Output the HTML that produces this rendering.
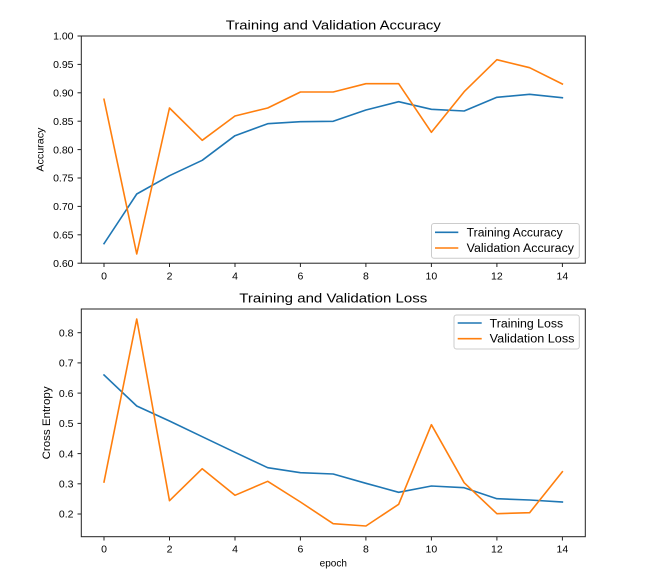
<!DOCTYPE html>
<html><head><meta charset="utf-8"><style>
html,body{margin:0;padding:0;background:#fff;}
svg{display:block;}
text{font-family:"Liberation Sans","Noto Sans CJK SC",sans-serif;fill:#000;}
</style></head><body>
<svg width="650" height="582" viewBox="0 0 650 582" xmlns="http://www.w3.org/2000/svg">
<rect width="650" height="582" fill="#fff"/>
<!-- TOP AXES -->
<text x="333.3" y="29.3" font-size="13" text-anchor="middle" textLength="215" lengthAdjust="spacingAndGlyphs">Training and Validation Accuracy</text>
<g stroke="#222" stroke-width="1">
<line x1="77.5" y1="36" x2="81.3" y2="36"/>
<line x1="77.5" y1="64.4" x2="81.3" y2="64.4"/>
<line x1="77.5" y1="92.8" x2="81.3" y2="92.8"/>
<line x1="77.5" y1="121.2" x2="81.3" y2="121.2"/>
<line x1="77.5" y1="149.6" x2="81.3" y2="149.6"/>
<line x1="77.5" y1="178" x2="81.3" y2="178"/>
<line x1="77.5" y1="206.4" x2="81.3" y2="206.4"/>
<line x1="77.5" y1="234.8" x2="81.3" y2="234.8"/>
<line x1="77.5" y1="263.2" x2="81.3" y2="263.2"/>
<line x1="104" y1="263.2" x2="104" y2="267"/>
<line x1="169.5" y1="263.2" x2="169.5" y2="267"/>
<line x1="235" y1="263.2" x2="235" y2="267"/>
<line x1="300.4" y1="263.2" x2="300.4" y2="267"/>
<line x1="365.9" y1="263.2" x2="365.9" y2="267"/>
<line x1="431.4" y1="263.2" x2="431.4" y2="267"/>
<line x1="496.9" y1="263.2" x2="496.9" y2="267"/>
<line x1="562.4" y1="263.2" x2="562.4" y2="267"/>
</g>
<g font-size="10.5" text-anchor="end">
<text x="73.5" y="39.7">1.00</text>
<text x="73.5" y="68.1">0.95</text>
<text x="73.5" y="96.5">0.90</text>
<text x="73.5" y="124.9">0.85</text>
<text x="73.5" y="153.3">0.80</text>
<text x="73.5" y="181.7">0.75</text>
<text x="73.5" y="210.1">0.70</text>
<text x="73.5" y="238.5">0.65</text>
<text x="73.5" y="266.9">0.60</text>
</g>
<g font-size="10.5" text-anchor="middle">
<text x="104" y="279.5">0</text>
<text x="169.5" y="279.5">2</text>
<text x="235" y="279.5">4</text>
<text x="300.4" y="279.5">6</text>
<text x="365.9" y="279.5">8</text>
<text x="431.4" y="279.5">10</text>
<text x="496.9" y="279.5">12</text>
<text x="562.4" y="279.5">14</text>
</g>
<text transform="translate(43.5,149.6) rotate(-90)" font-size="10" text-anchor="middle" textLength="44" lengthAdjust="spacingAndGlyphs">Accuracy</text>
<g fill="none" stroke-width="1.6" stroke-linejoin="round" stroke-linecap="square">
<polyline stroke="#1f77b4" points="104,243.7 136.74,194 169.48,175.7 202.22,160.3 234.96,135.7 267.7,123.7 300.44,121.7 333.18,121.3 365.92,110 398.66,101.7 431.4,109.3 464.14,111 496.88,97.3 529.62,94.3 562.36,97.7"/>
<polyline stroke="#ff7f0e" points="104,99.3 136.74,254 169.48,108 202.22,140.3 234.96,116 267.7,108 300.44,92 333.18,92 365.92,83.7 398.66,83.7 431.4,132.3 464.14,91.7 496.88,59.7 529.62,67.7 562.36,84"/>
</g>
<!-- legend top -->
<rect x="431.5" y="223.5" width="147.8" height="34.8" rx="2.5" fill="#fff" fill-opacity="0.8" stroke="#ccc" stroke-width="1"/>
<line x1="435" y1="232.3" x2="458.3" y2="232.3" stroke="#1f77b4" stroke-width="1.6"/>
<line x1="435" y1="248" x2="458.3" y2="248" stroke="#ff7f0e" stroke-width="1.6"/>
<text x="466.7" y="236.4" font-size="11.5" textLength="96" lengthAdjust="spacingAndGlyphs">Training Accuracy</text>
<text x="466.7" y="252.2" font-size="11.5" textLength="107.3" lengthAdjust="spacingAndGlyphs">Validation Accuracy</text>
<rect x="81.3" y="36" width="504" height="227.2" fill="none" stroke="#222" stroke-width="1"/>

<!-- BOTTOM AXES -->
<text x="333.3" y="302.3" font-size="13" text-anchor="middle" textLength="188" lengthAdjust="spacingAndGlyphs">Training and Validation Loss</text>
<g stroke="#222" stroke-width="1">
<line x1="77.5" y1="332.7" x2="81.3" y2="332.7"/>
<line x1="77.5" y1="362.9" x2="81.3" y2="362.9"/>
<line x1="77.5" y1="393.1" x2="81.3" y2="393.1"/>
<line x1="77.5" y1="423.4" x2="81.3" y2="423.4"/>
<line x1="77.5" y1="453.6" x2="81.3" y2="453.6"/>
<line x1="77.5" y1="483.8" x2="81.3" y2="483.8"/>
<line x1="77.5" y1="514" x2="81.3" y2="514"/>
<line x1="104" y1="536.7" x2="104" y2="540.5"/>
<line x1="169.5" y1="536.7" x2="169.5" y2="540.5"/>
<line x1="235" y1="536.7" x2="235" y2="540.5"/>
<line x1="300.4" y1="536.7" x2="300.4" y2="540.5"/>
<line x1="365.9" y1="536.7" x2="365.9" y2="540.5"/>
<line x1="431.4" y1="536.7" x2="431.4" y2="540.5"/>
<line x1="496.9" y1="536.7" x2="496.9" y2="540.5"/>
<line x1="562.4" y1="536.7" x2="562.4" y2="540.5"/>
</g>
<g font-size="10.5" text-anchor="end">
<text x="73.5" y="336.4">0.8</text>
<text x="73.5" y="366.6">0.7</text>
<text x="73.5" y="396.8">0.6</text>
<text x="73.5" y="427.1">0.5</text>
<text x="73.5" y="457.3">0.4</text>
<text x="73.5" y="487.5">0.3</text>
<text x="73.5" y="517.7">0.2</text>
</g>
<g font-size="10.5" text-anchor="middle">
<text x="104" y="552.5">0</text>
<text x="169.5" y="552.5">2</text>
<text x="235" y="552.5">4</text>
<text x="300.4" y="552.5">6</text>
<text x="365.9" y="552.5">8</text>
<text x="431.4" y="552.5">10</text>
<text x="496.9" y="552.5">12</text>
<text x="562.4" y="552.5">14</text>
</g>
<text transform="translate(50,422.9) rotate(-90)" font-size="11" text-anchor="middle" textLength="73" lengthAdjust="spacingAndGlyphs">Cross Entropy</text>
<text x="333.3" y="566.5" font-size="10" text-anchor="middle">epoch</text>
<g fill="none" stroke-width="1.6" stroke-linejoin="round" stroke-linecap="square">
<polyline stroke="#1f77b4" points="104,375 136.74,406 169.48,421 202.22,436.7 234.96,452.3 267.7,467.7 300.44,472.7 333.18,474 365.92,483.3 398.66,492.3 431.4,486 464.14,487.7 496.88,498.7 529.62,500 562.36,502"/>
<polyline stroke="#ff7f0e" points="104,482 136.74,319 169.48,500.7 202.22,468.7 234.96,495.3 267.7,481.3 300.44,502 333.18,523.7 365.92,526 398.66,504.3 431.4,424.7 464.14,482.7 496.88,513.7 529.62,512.7 562.36,471.7"/>
</g>
<!-- legend bottom -->
<rect x="454" y="315" width="125.3" height="34" rx="2.5" fill="#fff" fill-opacity="0.8" stroke="#ccc" stroke-width="1"/>
<line x1="457.7" y1="323" x2="481.7" y2="323" stroke="#1f77b4" stroke-width="1.6"/>
<line x1="457.7" y1="338.7" x2="481.7" y2="338.7" stroke="#ff7f0e" stroke-width="1.6"/>
<text x="489.7" y="327.5" font-size="11.5" textLength="73.5" lengthAdjust="spacingAndGlyphs">Training Loss</text>
<text x="489.7" y="342.5" font-size="11.5" textLength="84.8" lengthAdjust="spacingAndGlyphs">Validation Loss</text>
<rect x="81.3" y="309" width="504" height="227.7" fill="none" stroke="#222" stroke-width="1"/>
</svg>
</body></html>
